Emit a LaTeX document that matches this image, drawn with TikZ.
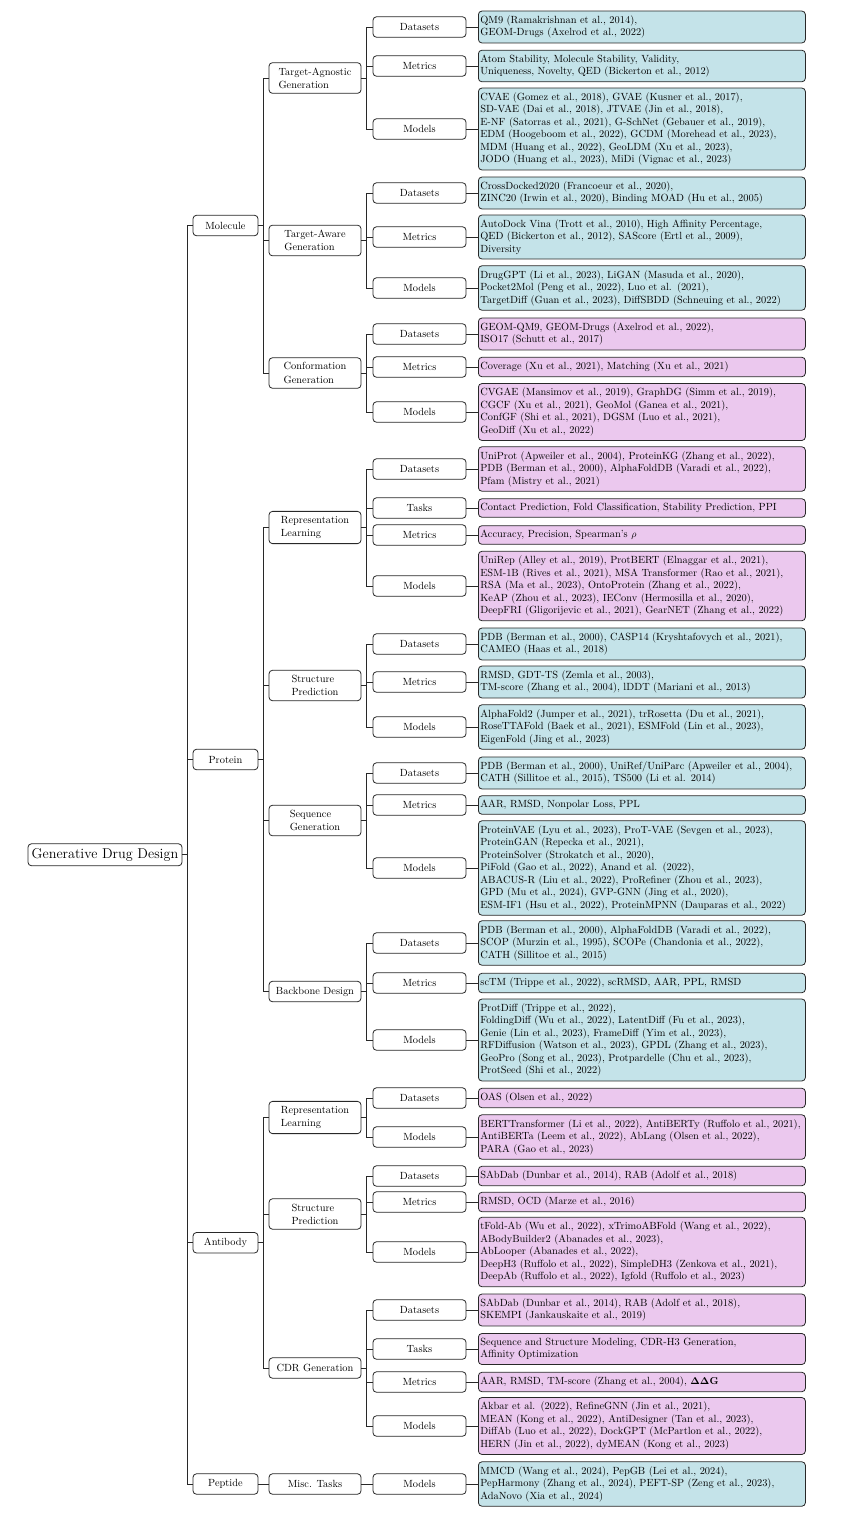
\documentclass[tikz,border=0pt]{standalone}
\usepackage{amsmath}
\usetikzlibrary{calc}
\definecolor{leafblue}{RGB}{196,227,233}
\definecolor{leafpink}{RGB}{235,200,238}
\definecolor{edgec}{RGB}{40,40,40}
\tikzset{
  base/.style={draw=edgec, line width=0.8pt, rounded corners=3.5pt, font=\fontsize{10.4}{12.5}\selectfont},
  leafb/.style={base, fill=leafblue, anchor=west, text width=323pt, inner xsep=2pt, inner ysep=4.5pt, align=left},
  leafp/.style={leafb, fill=leafpink},
  catbox/.style={base, fill=white, minimum width=93pt, minimum height=20.5pt, inner sep=1pt, align=center},
  topicbox/.style={base, fill=white, minimum width=92pt, minimum height=20.5pt, inner xsep=2pt, inner ysep=4.9pt, align=left, font=\fontsize{10.4}{13.2}\selectfont},
  domainbox/.style={base, fill=white, minimum width=65pt, minimum height=20.5pt, inner sep=1pt},
  rootbox/.style={base, fill=white, minimum width=154pt, minimum height=22pt, inner sep=1pt, font=\fontsize{14.2}{16}\selectfont},
  link/.style={draw=edgec, line width=0.8pt}
}
\begin{document}
\begin{tikzpicture}[x=1pt,y=-1pt]
\useasboundingbox (0,0) rectangle (841,1535);
% leaves
\node[leafb] (l1) at (478,27) {QM9 (Ramakrishnan et al., 2014),\\GEOM-Drugs (Axelrod et al., 2022)};
\node[leafb] (l2) at (478,66) {Atom Stability, Molecule Stability, Validity,\\Uniqueness, Novelty, QED (Bickerton et al., 2012)};
\node[leafb] (l3) at (478,129) {CVAE (Gomez et al., 2018), GVAE (Kusner et al., 2017),\\SD-VAE (Dai et al., 2018), JTVAE (Jin et al., 2018),\\E-NF (Satorras et al., 2021), G-SchNet (Gebauer et al., 2019),\\EDM (Hoogeboom et al., 2022), GCDM (Morehead et al., 2023),\\MDM (Huang et al., 2022), GeoLDM (Xu et al., 2023),\\JODO (Huang et al., 2023), MiDi (Vignac et al., 2023)};
\node[leafb] (l4) at (478,193) {CrossDocked2020 (Francoeur et al., 2020),\\ZINC20 (Irwin et al., 2020), Binding MOAD (Hu et al., 2005)};
\node[leafb] (l5) at (478,237) {AutoDock Vina (Trott et al., 2010), High Affinity Percentage,\\QED (Bickerton et al., 2012), SAScore (Ertl et al., 2009),\\Diversity};
\node[leafb] (l6) at (478,288) {DrugGPT (Li et al., 2023), LiGAN (Masuda et al., 2020),\\Pocket2Mol (Peng et al., 2022), Luo et al. (2021),\\TargetDiff (Guan et al., 2023), DiffSBDD (Schneuing et al., 2022)};
\node[leafp] (l7) at (478,334) {GEOM-QM9, GEOM-Drugs (Axelrod et al., 2022),\\ISO17 (Schutt et al., 2017)};
\node[leafp] (l8) at (478,367) {Coverage (Xu et al., 2021), Matching (Xu et al., 2021)};
\node[leafp] (l9) at (478,412) {CVGAE (Mansimov et al., 2019), GraphDG (Simm et al., 2019),\\CGCF (Xu et al., 2021), GeoMol (Ganea et al., 2021),\\ConfGF (Shi et al., 2021), DGSM (Luo et al., 2021),\\GeoDiff (Xu et al., 2022)};
\node[leafp] (l10) at (478,469) {UniProt (Apweiler et al., 2004), ProteinKG (Zhang et al., 2022),\\PDB (Berman et al., 2000), AlphaFoldDB (Varadi et al., 2022),\\Pfam (Mistry et al., 2021)};
\node[leafp] (l11) at (478,508) {Contact Prediction, Fold Classification, Stability Prediction, PPI};
\node[leafp] (l12) at (478,535) {Accuracy, Precision, Spearman's $\rho$};
\node[leafp] (l13) at (478,586) {UniRep (Alley et al., 2019), ProtBERT (Elnaggar et al., 2021),\\ESM-1B (Rives et al., 2021), MSA Transformer (Rao et al., 2021),\\RSA (Ma et al., 2023), OntoProtein (Zhang et al., 2022),\\KeAP (Zhou et al., 2023), IEConv (Hermosilla et al., 2020),\\DeepFRI (Gligorijevic et al., 2021), GearNET (Zhang et al., 2022)};
\node[leafb] (l14) at (478,644) {PDB (Berman et al., 2000), CASP14 (Kryshtafovych et al., 2021),\\CAMEO (Haas et al., 2018)};
\node[leafb] (l15) at (478,682) {RMSD, GDT-TS (Zemla et al., 2003),\\TM-score (Zhang et al., 2004), lDDT (Mariani et al., 2013)};
\node[leafb] (l16) at (478,727) {AlphaFold2 (Jumper et al., 2021), trRosetta (Du et al., 2021),\\RoseTTAFold (Baek et al., 2021), ESMFold (Lin et al., 2023),\\EigenFold (Jing et al., 2023)};
\node[leafb] (l17) at (478,773) {PDB (Berman et al., 2000), UniRef/UniParc (Apweiler et al., 2004),\\CATH (Sillitoe et al., 2015), TS500 (Li et al. 2014)};
\node[leafb] (l18) at (478,805) {AAR, RMSD, Nonpolar Loss, PPL};
\node[leafb] (l19) at (478,868) {ProteinVAE (Lyu et al., 2023), ProT-VAE (Sevgen et al., 2023),\\ProteinGAN (Repecka et al., 2021),\\ProteinSolver (Strokatch et al., 2020),\\PiFold (Gao et al., 2022), Anand et al. (2022),\\ABACUS-R (Liu et al., 2022), ProRefiner (Zhou et al., 2023),\\GPD (Mu et al., 2024), GVP-GNN (Jing et al., 2020),\\ESM-IF1 (Hsu et al., 2022), ProteinMPNN (Dauparas et al., 2022)};
\node[leafb] (l20) at (478,943) {PDB (Berman et al., 2000), AlphaFoldDB (Varadi et al., 2022),\\SCOP (Murzin et al., 1995), SCOPe (Chandonia et al., 2022),\\CATH (Sillitoe et al., 2015)};
\node[leafb] (l21) at (478,983) {scTM (Trippe et al., 2022), scRMSD, AAR, PPL, RMSD};
\node[leafb] (l22) at (478,1040) {ProtDiff (Trippe et al., 2022),\\FoldingDiff (Wu et al., 2022), LatentDiff (Fu et al., 2023),\\Genie (Lin et al., 2023), FrameDiff (Yim et al., 2023),\\RFDiffusion (Watson et al., 2023), GPDL (Zhang et al., 2023),\\GeoPro (Song et al., 2023), Protpardelle (Chu et al., 2023),\\ProtSeed (Shi et al., 2022)};
\node[leafp] (l23) at (478,1098) {OAS (Olsen et al., 2022)};
\node[leafp] (l24) at (478,1137) {BERTTransformer (Li et al., 2022), AntiBERTy (Ruffolo et al., 2021),\\AntiBERTa (Leem et al., 2022), AbLang (Olsen et al., 2022),\\PARA (Gao et al., 2023)};
\node[leafp] (l25) at (478,1176) {SAbDab (Dunbar et al., 2014), RAB (Adolf et al., 2018)};
\node[leafp] (l26) at (478,1202) {RMSD, OCD (Marze et al., 2016)};
\node[leafp] (l27) at (478,1252) {tFold-Ab (Wu et al., 2022), xTrimoABFold (Wang et al., 2022),\\ABodyBuilder2 (Abanades et al., 2023),\\AbLooper (Abanades et al., 2022),\\DeepH3 (Ruffolo et al., 2022), SimpleDH3 (Zenkova et al., 2021),\\DeepAb (Ruffolo et al., 2022), Igfold (Ruffolo et al., 2023)};
\node[leafp] (l28) at (478,1310) {SAbDab (Dunbar et al., 2014), RAB (Adolf et al., 2018),\\SKEMPI (Jankauskaite et al., 2019)};
\node[leafp] (l29) at (478,1349) {Sequence and Structure Modeling, CDR-H3 Generation,\\Affinity Optimization};
\node[leafp] (l30) at (478,1382) {AAR, RMSD, TM-score (Zhang et al., 2004), $\mathbf{\Delta\Delta G}$};
\node[leafp] (l31) at (478,1426) {Akbar et al. (2022), RefineGNN (Jin et al., 2021),\\MEAN (Kong et al., 2022), AntiDesigner (Tan et al., 2023),\\DiffAb (Luo et al., 2022), DockGPT (McPartlon et al., 2022),\\HERN (Jin et al., 2022), dyMEAN (Kong et al., 2023)};
\node[leafb] (l32) at (478,1484) {MMCD (Wang et al., 2024), PepGB (Lei et al., 2024),\\PepHarmony (Zhang et al., 2024), PEFT-SP (Zeng et al., 2023),\\AdaNovo (Xia et al., 2024)};
% categories
\foreach \i/\t in {1/Datasets,2/Metrics,3/Models,4/Datasets,5/Metrics,6/Models,7/Datasets,8/Metrics,9/Models,10/Datasets,11/Tasks,12/Metrics,13/Models,14/Datasets,15/Metrics,16/Models,17/Datasets,18/Metrics,19/Models,20/Datasets,21/Metrics,22/Models,23/Datasets,24/Models,25/Datasets,26/Metrics,27/Models,28/Datasets,29/Tasks,30/Metrics,31/Models,32/Models}
  \node[catbox] (c\i) at (419.5,0 |- l\i.west) {\t};
% topics
\node[topicbox] (t1) at ($(315,0 |- c1)!0.5!(315,0 |- c3)$) {Target-Agnostic\\Generation};
\node[topicbox] (t2) at ($(315,0 |- c4)!0.5!(315,0 |- c6)$) {Target-Aware\\Generation};
\node[topicbox] (t3) at ($(315,0 |- c7)!0.5!(315,0 |- c9)$) {Conformation\\Generation};
\node[topicbox] (t4) at ($(315,0 |- c10)!0.5!(315,0 |- c13)$) {Representation\\Learning};
\node[topicbox] (t5) at ($(315,0 |- c14)!0.5!(315,0 |- c16)$) {Structure\\Prediction};
\node[topicbox] (t6) at ($(315,0 |- c17)!0.5!(315,0 |- c19)$) {Sequence\\Generation};
\node[topicbox] (t7) at ($(315,0 |- c20)!0.5!(315,0 |- c22)$) {Backbone Design};
\node[topicbox] (t8) at ($(315,0 |- c23)!0.5!(315,0 |- c24)$) {Representation\\Learning};
\node[topicbox] (t9) at ($(315,0 |- c25)!0.5!(315,0 |- c27)$) {Structure\\Prediction};
\node[topicbox] (t10) at ($(315,0 |- c28)!0.5!(315,0 |- c31)$) {CDR Generation};
\node[topicbox] (t11) at (315,0 |- c32) {Misc. Tasks};
% domains
\node[domainbox] (d1) at ($(225.5,0 |- t1)!0.5!(225.5,0 |- t3)$) {Molecule};
\node[domainbox] (d2) at ($(225.5,0 |- t4)!0.5!(225.5,0 |- t7)$) {Protein};
\node[domainbox] (d3) at ($(225.5,0 |- t8)!0.5!(225.5,0 |- t10)$) {Antibody};
\node[domainbox] (d4) at (225.5,0 |- t11) {Peptide};
% root
\node[rootbox] (r) at ($(105,0 |- d1)!0.5!(105,0 |- d4)$) {Generative Drug Design};
% connectors
\foreach \c in {d1,d2,d3,d4} \draw[link] (r.east) -- ++(5,0) |- (\c.west);
\foreach \p/\c in {d1/t1,d1/t2,d1/t3,d2/t4,d2/t5,d2/t6,d2/t7,d3/t8,d3/t9,d3/t10,d4/t11}
  \draw[link] (\p.east) -- ++(5,0) |- (\c.west);
\foreach \p/\c in {t1/c1,t1/c2,t1/c3,t2/c4,t2/c5,t2/c6,t3/c7,t3/c8,t3/c9,t4/c10,t4/c11,t4/c12,t4/c13,t5/c14,t5/c15,t5/c16,t6/c17,t6/c18,t6/c19,t7/c20,t7/c21,t7/c22,t8/c23,t8/c24,t9/c25,t9/c26,t9/c27,t10/c28,t10/c29,t10/c30,t10/c31,t11/c32}
  \draw[link] (\p.east) -- ++(5,0) |- (\c.west);
\foreach \i in {1,...,32} \draw[link] (c\i.east) -- (l\i.west);
\end{tikzpicture}
\end{document}
